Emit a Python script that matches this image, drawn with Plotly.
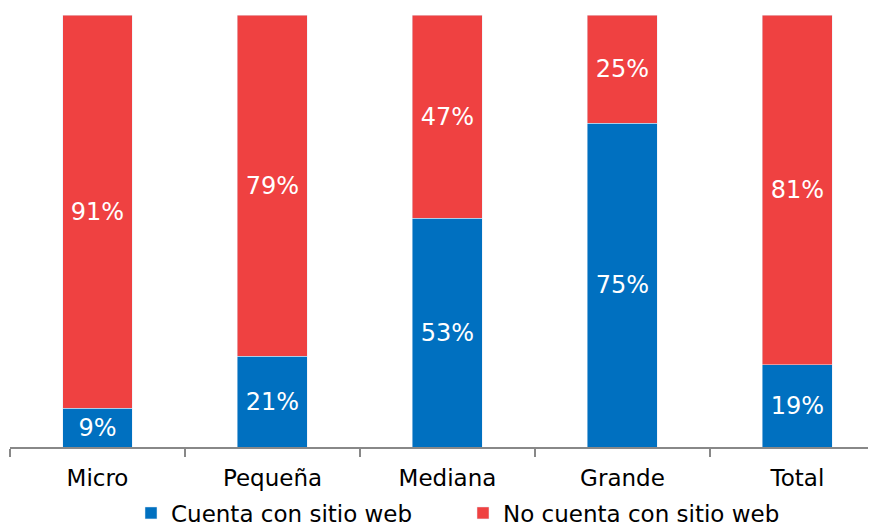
import plotly.graph_objects as go

categories = ["Micro", "Pequeña", "Mediana", "Grande", "Total"]
con_sitio = [9, 21, 53, 75, 19]
sin_sitio = [91, 79, 47, 25, 81]
series_names = ["Cuenta con sitio web", "No cuenta con sitio web"]

FONT = "DejaVu Sans"
BLUE = "#0070C0"
RED = "#EF4141"
W, H = 868, 519
FS = 23

fig = go.Figure()
for vals, name, col, leg in [(con_sitio, series_names[0], BLUE, "legend"),
                             (sin_sitio, series_names[1], RED, "legend2")]:
    fig.add_trace(go.Bar(
        x=categories, y=vals, name=name, marker_color=col, legend=leg,
        text=[f"{v}%" for v in vals], textposition="inside",
        insidetextanchor="middle", textangle=0, cliponaxis=False,
        textfont=dict(color="white", size=24, family=FONT), width=0.4,
    ))

leg_common = dict(orientation="h", xref="container", yref="container",
                  xanchor="left", y=(H - 505) / H, yanchor="middle",
                  font=dict(size=FS, family=FONT), itemwidth=30,
                  bgcolor="rgba(0,0,0,0)")

fig.update_layout(
    barmode="stack",
    width=W, height=H,
    margin=dict(l=2, r=0, t=7, b=80),
    paper_bgcolor="white", plot_bgcolor="white",
    font=dict(family=FONT, size=FS, color="#000000"),
    uniformtext=dict(mode=False),
    legend=dict(x=123 / W, **leg_common),
    legend2=dict(x=455 / W, **leg_common),
    xaxis=dict(range=[-0.5, 4.449], tickson="boundaries", ticks="outside", ticklen=8,
               tickcolor="#888888", tickwidth=1.5, showline=True, linecolor="#888888",
               linewidth=1.5, showgrid=False, tickfont=dict(size=FS, family=FONT),
               ticklabelstandoff=10, fixedrange=True),
    yaxis=dict(range=[0, 100], visible=False, showgrid=False, fixedrange=True),
    showlegend=True,
)

fig.write_html("out.html")
